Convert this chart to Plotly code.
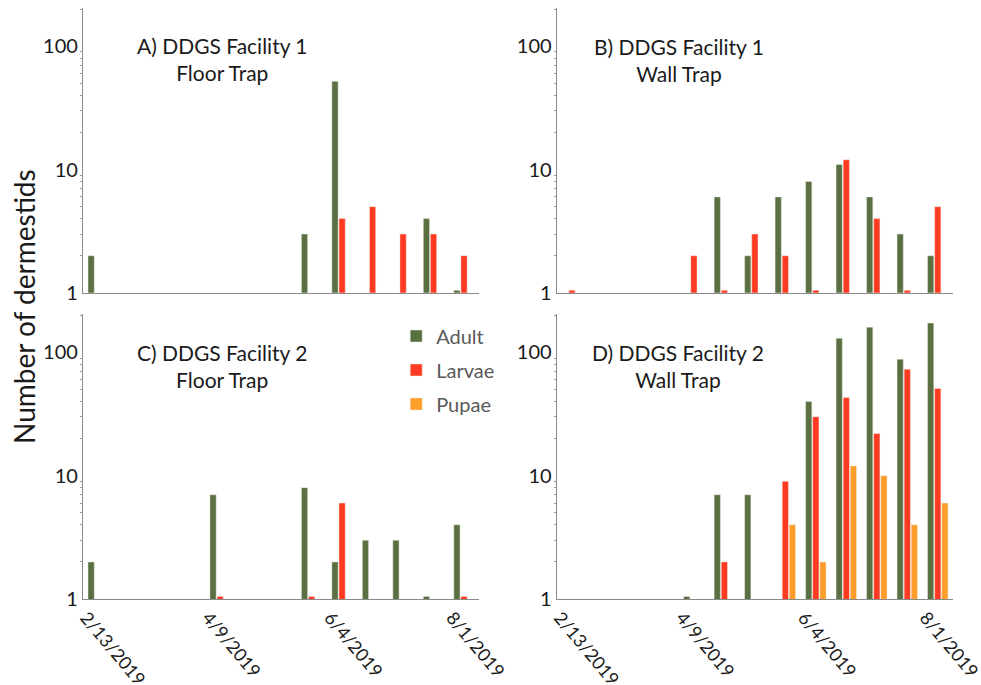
import plotly.graph_objects as go
from plotly.subplots import make_subplots

dates = ["2/13/2019", "2/27/2019", "3/13/2019", "3/27/2019", "4/9/2019",
         "4/23/2019", "5/7/2019", "5/21/2019", "6/4/2019", "6/18/2019",
         "7/2/2019", "7/16/2019", "8/1/2019"]
tick_labels = ["2/13/2019", "4/9/2019", "6/4/2019", "8/1/2019"]

# A) Facility 1, floor trap
a_adult = [2, None, None, None, None, None, None, 3, 52, None, None, 4, 1.05]
a_larvae = [None, None, None, None, None, None, None, None, 4, 5, 3, 3, 2]
a_pupae = [None] * 13
# B) Facility 1, wall trap
b_adult = [None, None, None, None, None, 6, 2, 6, 8, 11, 6, 3, 2]
b_larvae = [1.05, None, None, None, 2, 1.05, 3, 2, 1.05, 12, 4, 1.05, 5]
b_pupae = [None] * 13
# C) Facility 2, floor trap
c_adult = [2, None, None, None, 7, None, None, 8, 2, 3, 3, 1.05, 4]
c_larvae = [None, None, None, None, 1.05, None, None, 1.05, 6, None, None, None, 1.05]
c_pupae = [None] * 13
# D) Facility 2, wall trap
d_adult = [None, None, None, None, 1.05, 7, 7, None, 40, 130, 160, 88, 173]
d_larvae = [None, None, None, None, None, 2, None, 9, 30, 43, 22, 73, 51]
d_pupae = [None, None, None, None, None, None, None, 4, 2, 12, 10, 4, 6]

panels = [
    ("A) DDGS Facility 1<br>Floor Trap", a_adult, a_larvae, a_pupae),
    ("B) DDGS Facility 1<br>Wall Trap", b_adult, b_larvae, b_pupae),
    ("C) DDGS Facility 2<br>Floor Trap", c_adult, c_larvae, c_pupae),
    ("D) DDGS Facility 2<br>Wall Trap", d_adult, d_larvae, d_pupae),
]
series_names = ["Adult", "Larvae", "Pupae"]
colors = ["#5a7043", "#ff3a22", "#ff9d2a"]

FONT = "Lato"
W, H = 981, 685
ml, mr, mt, mb = 83, 28, 8, 86
pw, ph = W - ml - mr, H - mt - mb

fig = make_subplots(rows=2, cols=2, horizontal_spacing=0.089, vertical_spacing=0.036)

for i, (title, ad, la, pu) in enumerate(panels):
    r, c = i // 2 + 1, i % 2 + 1
    for j, (name, vals) in enumerate(zip(series_names, [ad, la, pu])):
        fig.add_trace(go.Bar(
            x=dates, y=vals, name=name, marker_color=colors[j],
            marker_line=dict(color="rgba(235,240,225,0.8)", width=0.6),
            legendgroup=name, showlegend=(i == 0),
        ), row=r, col=c)

fig.update_layout(
    width=W, height=H,
    margin=dict(l=ml, r=mr, t=mt, b=mb, autoexpand=False),
    plot_bgcolor="white", paper_bgcolor="white",
    barmode="group", bargap=0.3, bargroupgap=0.12,
    font=dict(family=FONT, size=19, color="#1a1a1a"),
    legend=dict(x=0.36, y=0.478, xanchor="left", yanchor="top",
                font=dict(family=FONT, size=20, color="#595959"),
                tracegroupgap=5, bgcolor="rgba(0,0,0,0)"),
)

fig.update_xaxes(
    type="category", categoryorder="array", categoryarray=dates,
    tickmode="array", tickvals=tick_labels, ticktext=tick_labels,
    tickangle=50, ticklabelshift=-12, showline=True, linecolor="#8a8a8a", linewidth=1.2,
    showgrid=False, ticks="", automargin=False,
    tickfont=dict(family=FONT, size=18, color="#1a1a1a"),
)
fig.update_xaxes(showticklabels=False, row=1)

fig.update_yaxes(
    type="log", range=[0, 2.31], tickvals=[1, 10, 100], ticktext=["1", "10", "100"],
    showline=True, linecolor="#8a8a8a", linewidth=1.2, showgrid=False, ticks="",
    automargin=False, tickfont=dict(family=FONT, size=20, color="#1a1a1a"),
    minor=dict(ticks="outside", ticklen=2, tickcolor="#9a9a9a",
               tickvals=[2, 3, 4, 5, 6, 7, 8, 9, 20, 30, 40, 50, 60, 70, 80, 90, 200]),
)

title_pos = [(222, 59), (679, 60), (222, 366), (678, 366)]
for (title, *_), (px, py) in zip(panels, title_pos):
    fig.add_annotation(
        text=title, xref="paper", yref="paper",
        x=(px - ml) / pw, y=1 - (py - mt) / ph, xanchor="center", yanchor="middle",
        showarrow=False, align="center",
        font=dict(family=FONT, size=21, color="#1a1a1a"),
    )

fig.add_annotation(
    text="Number of dermestids", xref="paper", yref="paper",
    x=(24 - ml) / pw, y=1 - (307 - mt) / ph, xanchor="center", yanchor="middle",
    textangle=-90, showarrow=False,
    font=dict(family=FONT, size=28, color="#1a1a1a"),
)

fig.write_html("out.html", config={"displayModeBar": False},
               post_script="document.body.style.margin='0px';")
